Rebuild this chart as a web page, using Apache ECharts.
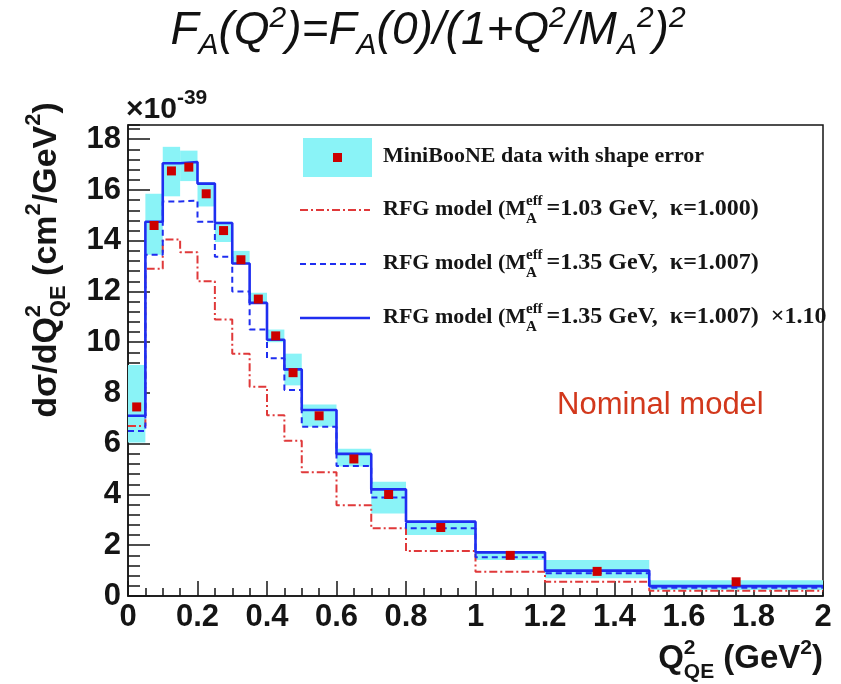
<!DOCTYPE html>
<html><head><meta charset="utf-8">
<script src="https://cdn.jsdelivr.net/npm/echarts@6/dist/echarts.min.js"></script>
<style>html,body{margin:0;padding:0;background:#fff}#chart{width:841px;height:684px}</style>
</head><body><div id="chart"></div>
<script>
// ---------- data (units of 1e-39 cm^2/GeV^2) ----------
const binEdges = [0, 0.05, 0.1, 0.15, 0.2, 0.25, 0.3, 0.35, 0.4, 0.45, 0.5, 0.6, 0.7, 0.8, 1.0, 1.2, 1.5, 2.0];
const dataValues   = [7.45, 14.6, 16.75, 16.9, 15.85, 14.4, 13.25, 11.7, 10.25, 8.8, 7.1, 5.4, 4.0, 2.7, 1.6, 0.97, 0.56];
const shapeErrLow  = [6.05, 13.45, 15.75, 16.35, 15.35, 13.95, 13.1, 11.55, 10.0, 8.3, 6.67, 5.1, 3.25, 2.4, 1.42, 0.70, 0.24];
const shapeErrHigh = [9.1, 15.85, 17.7, 17.55, 16.3, 14.75, 13.6, 11.95, 10.5, 9.55, 7.55, 5.8, 4.5, 2.95, 1.75, 1.42, 0.62];
const rfgNominal   = [6.7, 12.9, 14.05, 13.55, 12.4, 10.9, 9.55, 8.25, 7.12, 6.12, 4.88, 3.58, 2.67, 1.77, 0.96, 0.56, 0.21];
const rfgFit       = [6.5, 13.45, 15.55, 15.58, 14.75, 13.37, 12.0, 10.5, 9.37, 8.12, 6.67, 5.12, 3.88, 2.67, 1.53, 0.9, 0.33];
const rfgFitScaled = [7.1, 14.75, 17.05, 17.1, 16.25, 14.7, 13.1, 11.55, 10.1, 8.93, 7.33, 5.6, 4.2, 2.93, 1.72, 1.0, 0.39];
const xTickLabels = ['0', '0.2', '0.4', '0.6', '0.8', '1', '1.2', '1.4', '1.6', '1.8', '2'];
const yTickLabels = ['0', '2', '4', '6', '8', '10', '12', '14', '16', '18'];

// ---------- styles ----------
const CYAN = '#8af3f7', RED_PT = '#cc0000', RED_LINE = '#e0393a', BLUE = '#1f2ef0', INK = '#151515';
const SANS = '"Liberation Sans", Arial, sans-serif';
const SERIF = '"Liberation Serif", "Times New Roman", serif';

const mctx = document.createElement('canvas').getContext('2d');
// pieces: {t, s, b (baseline offset), stack (shares x with next piece), gap}
function mathText(pieces, o) {
  let x = 0, stackX = null, stackW = 0;
  const kids = [];
  pieces.forEach(p => {
    const font = `${o.style || 'normal'} ${o.weight || 'normal'} ${p.s}px ${o.family}`;
    mctx.font = font;
    const w = mctx.measureText(p.t).width;
    let px = (stackX !== null) ? stackX : x + (p.gap || 0);
    kids.push({ type: 'text', x: px, y: (p.b || 0) - 0.345 * p.s,
      style: { text: p.t, font: font, fill: o.color || INK, align: 'left', verticalAlign: 'middle' } });
    if (p.stack) { stackX = px; stackW = w; }
    else if (stackX !== null) { x = stackX + Math.max(stackW, w); stackX = null; }
    else x = px + w;
  });
  const off = -x * (o.anchor || 0);
  kids.forEach(k => k.x += off);
  return { type: 'group', x: o.x, y: o.y, rotation: o.rotation || 0, children: kids, z: 20 };
}

function stepData(vals) {
  const d = vals.map((v, i) => [binEdges[i], v]);
  d.push([binEdges[vals.length], vals[vals.length - 1]]);
  return d;
}

const chart = echarts.init(document.getElementById('chart'), null, { renderer: 'canvas' });

const legendRows = [
  { y: 210, text: '=1.03 GeV,  κ=1.000)' },
  { y: 264, text: '=1.35 GeV,  κ=1.007)' },
  { y: 318, text: '=1.35 GeV,  κ=1.007)  ×1.10' }
];
const graphics = [
  // title
  mathText([
    { t: 'F', s: 46 }, { t: 'A', s: 30, b: 9 }, { t: '(Q', s: 46 }, { t: '2', s: 30, b: -18 },
    { t: ')=F', s: 46 }, { t: 'A', s: 30, b: 9 }, { t: '(0)/(1+Q', s: 46 }, { t: '2', s: 30, b: -18 },
    { t: '/M', s: 46 }, { t: 'A', s: 30, b: 9 }, { t: '2', s: 30, b: -18 }, { t: ')', s: 46 }, { t: '2', s: 30, b: -18 }
  ], { family: SANS, style: 'italic', x: 428, y: 47, anchor: 0.5, color: '#111' }),
  // exponent
  mathText([{ t: '×10', s: 30 }, { t: '-39', s: 21, b: -15 }], { family: SANS, weight: 'bold', x: 126, y: 120, anchor: 0 }),
  // y title
  mathText([
    { t: 'dσ/dQ', s: 34 }, { t: '2', s: 22, b: -16, stack: true }, { t: 'QE', s: 22, b: 9 },
    { t: ' (cm', s: 34 }, { t: '2', s: 22, b: -16 }, { t: '/GeV', s: 34 }, { t: '2', s: 22, b: -16 }, { t: ')', s: 34 }
  ], { family: SANS, weight: 'bold', x: 58, y: 260, anchor: 0.5, rotation: Math.PI / 2 }),
  // x title
  mathText([
    { t: 'Q', s: 33 }, { t: '2', s: 21, b: -15, stack: true }, { t: 'QE', s: 21, b: 9 },
    { t: ' (GeV', s: 33 }, { t: '2', s: 21, b: -15 }, { t: ')', s: 33 }
  ], { family: SANS, weight: 'bold', x: 823, y: 670, anchor: 1 }),
  // nominal model note
  { type: 'text', x: 557, y: 405, z: 20, style: { text: 'Nominal model', font: `31px ${SANS}`, fill: '#d2381c', align: 'left', verticalAlign: 'middle' } },
  // legend: data entry
  { type: 'rect', z: 20, shape: { x: 303, y: 138, width: 69, height: 39 }, style: { fill: CYAN } },
  { type: 'rect', z: 21, shape: { x: 333, y: 153, width: 9, height: 9 }, style: { fill: RED_PT } },
  mathText([{ t: 'MiniBooNE data with shape error', s: 22 }], { family: SERIF, weight: 'bold', x: 383, y: 164, anchor: 0 }),
  { type: 'line', z: 20, shape: { x1: 300, y1: 210, x2: 370, y2: 210 }, style: { stroke: RED_LINE, lineWidth: 2, lineDash: [8, 3, 2, 3] } },
  { type: 'line', z: 20, shape: { x1: 300, y1: 264, x2: 370, y2: 264 }, style: { stroke: BLUE, lineWidth: 2, lineDash: [6, 4] } },
  { type: 'line', z: 20, shape: { x1: 300, y1: 318, x2: 370, y2: 318 }, style: { stroke: BLUE, lineWidth: 2.4 } }
];
legendRows.forEach(r => {
  graphics.push(mathText([
    { t: 'RFG model (M', s: 22 }, { t: 'eff', s: 15, b: -11, stack: true }, { t: 'A', s: 15, b: 7 },
    { t: r.text, s: 24, gap: 4 }
  ], { family: SERIF, weight: 'bold', x: 383, y: r.y + 7, anchor: 0 }));
});

const tickStyle = { color: INK, width: 1.5 };
const labelFont = { fontSize: 31, fontFamily: SANS, fontWeight: 'bold', color: INK };
const option = {
  animation: false,
  backgroundColor: '#fff',
  grid: { left: 128, right: 18, top: 125, bottom: 88, show: true, borderColor: INK, borderWidth: 1.5, backgroundColor: 'transparent' },
  xAxis: {
    type: 'value', min: 0, max: 2, interval: 0.2,
    axisLine: { show: true, lineStyle: tickStyle },
    axisTick: { show: true, inside: true, length: 15, lineStyle: tickStyle },
    minorTick: { show: true, splitNumber: 4, length: 8, lineStyle: tickStyle },
    splitLine: { show: false }, minorSplitLine: { show: false },
    axisLabel: Object.assign({ margin: 6,
      formatter: v => { const i = Math.round(v / 0.2); return Math.abs(v - i * 0.2) < 1e-6 ? (xTickLabels[i] || '') : ''; } }, labelFont)
  },
  yAxis: [{
    type: 'value', min: 0, max: 18.56, interval: 2, position: 'left',
    axisLine: { show: true, lineStyle: tickStyle },
    axisTick: { show: true, inside: true, length: 22, lineStyle: tickStyle },
    splitLine: { show: false },
    axisLabel: Object.assign({ margin: 7, showMaxLabel: false,
      formatter: v => { const i = Math.round(v / 2); return Math.abs(v - i * 2) < 1e-6 ? (yTickLabels[i] || '') : ''; } }, labelFont)
  }, {
    type: 'value', min: 0, max: 18.56, interval: 0.4, position: 'left', offset: 0,
    axisLine: { show: false },
    axisTick: { show: true, inside: true, length: 12, lineStyle: tickStyle },
    splitLine: { show: false }, axisLabel: { show: false }
  }],
  graphic: graphics,
  series: [
    {
      name: 'MiniBooNE shape error', type: 'custom', z: 1,
      data: dataValues.map((v, i) => [binEdges[i], binEdges[i + 1], shapeErrLow[i], shapeErrHigh[i]]),
      encode: { x: [0, 1], y: [2, 3] },
      renderItem: (params, api) => {
        const a = api.coord([api.value(0), api.value(3)]);
        const b = api.coord([api.value(1), api.value(2)]);
        return { type: 'rect', shape: { x: a[0], y: a[1], width: b[0] - a[0], height: b[1] - a[1] }, style: { fill: CYAN } };
      }
    },
    { name: 'RFG 1.03', type: 'line', step: 'end', symbol: 'none', z: 2, data: stepData(rfgNominal),
      lineStyle: { color: RED_LINE, width: 2, type: [8, 3, 2, 3] } },
    { name: 'RFG 1.35', type: 'line', step: 'end', symbol: 'none', z: 3, data: stepData(rfgFit),
      lineStyle: { color: BLUE, width: 2, type: [6, 4] } },
    { name: 'RFG 1.35 x1.10', type: 'line', step: 'end', symbol: 'none', z: 4, data: stepData(rfgFitScaled),
      lineStyle: { color: BLUE, width: 2.6 } },
    { name: 'MiniBooNE data', type: 'scatter', symbol: 'rect', symbolSize: 9, z: 5,
      data: dataValues.map((v, i) => [(binEdges[i] + binEdges[i + 1]) / 2, v]),
      itemStyle: { color: RED_PT, opacity: 1 } }
  ]
};
chart.setOption(option);
</script></body></html>
